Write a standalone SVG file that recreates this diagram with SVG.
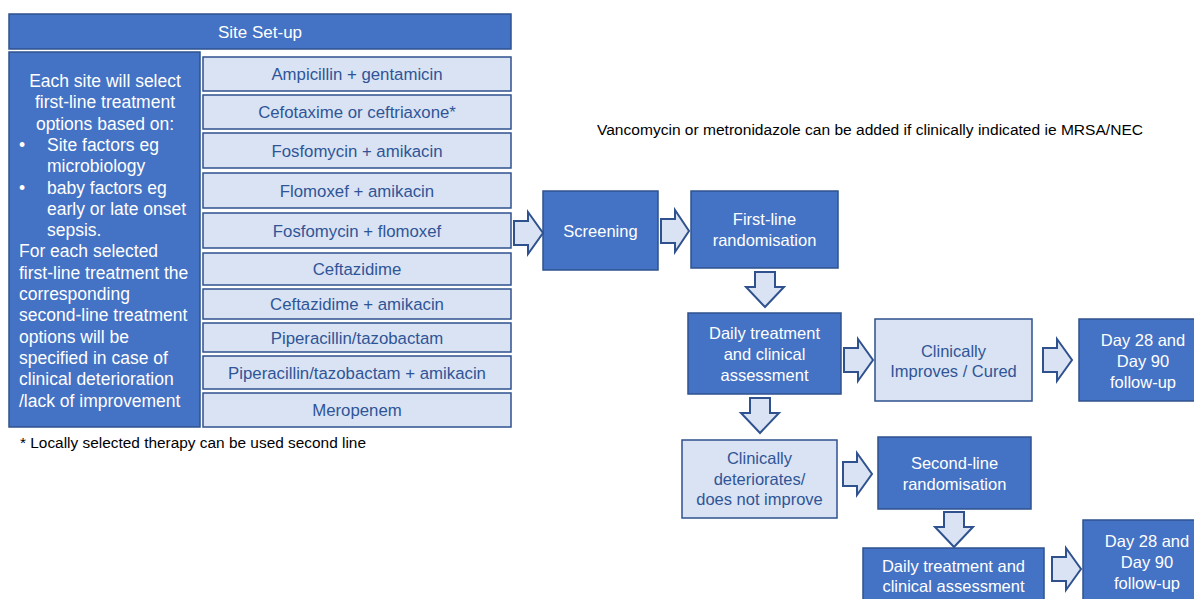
<svg xmlns="http://www.w3.org/2000/svg" width="1194" height="599" viewBox="0 0 1194 599">
<style>
.dk{fill:#4472C4;stroke:#2F528F;stroke-width:1.5}
.lt{fill:#DAE3F3;stroke:#2F528F;stroke-width:1.5}
.ar{fill:#DAE3F3;stroke:#2F528F;stroke-width:2;stroke-linejoin:miter}
text{font-family:"Liberation Sans",Arial,sans-serif}
.w{fill:#FFFFFF;font-size:16.5px;text-anchor:middle}
.b{fill:#2F5597;font-size:16.8px;text-anchor:middle}
.lw{fill:#FFFFFF;font-size:17.5px}
.note{fill:#000000;font-size:15.3px}
</style>
<rect width="1194" height="599" fill="#FFFFFF"/>

<g id="site-setup">
<rect class="dk" x="9" y="14" width="502" height="35"/>
<text class="w" x="260" y="38" style="font-size:17px">Site Set-up</text>
</g>

<g id="site-description">
<rect class="dk" x="9" y="52" width="191" height="375"/>
<text class="lw" text-anchor="middle" x="105" y="87">Each site will select</text>
<text class="lw" text-anchor="middle" x="105" y="108.3">first-line treatment</text>
<text class="lw" text-anchor="middle" x="105" y="129.6">options based on:</text>
<text class="lw" x="19" y="150.9">•</text>
<text class="lw" x="47" y="150.9">Site factors eg</text>
<text class="lw" x="47" y="172.2">microbiology</text>
<text class="lw" x="19" y="193.5">•</text>
<text class="lw" x="47" y="193.5">baby factors eg</text>
<text class="lw" x="47" y="214.8">early or late onset</text>
<text class="lw" x="47" y="236.1">sepsis.</text>
<text class="lw" x="19" y="257.4">For each selected</text>
<text class="lw" x="19" y="278.7">first-line treatment the</text>
<text class="lw" x="19" y="300">corresponding</text>
<text class="lw" x="19" y="321.3">second-line treatment</text>
<text class="lw" x="19" y="342.6">options will be</text>
<text class="lw" x="19" y="363.9">specified in case of</text>
<text class="lw" x="19" y="385.2">clinical deterioration</text>
<text class="lw" x="19" y="406.5">/lack of improvement</text>
</g>

<g id="opt1"><rect class="lt" x="203" y="57" width="308" height="34"/><text class="b" x="357" y="80">Ampicillin + gentamicin</text></g>
<g id="opt2"><rect class="lt" x="203" y="95" width="308" height="34"/><text class="b" x="357" y="118">Cefotaxime  or ceftriaxone*</text></g>
<g id="opt3"><rect class="lt" x="203" y="133" width="308" height="35"/><text class="b" x="357" y="156.5">Fosfomycin +  amikacin</text></g>
<g id="opt4"><rect class="lt" x="203" y="173" width="308" height="35"/><text class="b" x="357" y="196.5">Flomoxef + amikacin</text></g>
<g id="opt5"><rect class="lt" x="203" y="213" width="308" height="35"/><text class="b" x="357" y="236.5">Fosfomycin + flomoxef</text></g>
<g id="opt6"><rect class="lt" x="203" y="253" width="308" height="32"/><text class="b" x="357" y="275">Ceftazidime</text></g>
<g id="opt7"><rect class="lt" x="203" y="289" width="308" height="30"/><text class="b" x="357" y="310">Ceftazidime + amikacin</text></g>
<g id="opt8"><rect class="lt" x="203" y="323" width="308" height="29"/><text class="b" x="357" y="343.5">Piperacillin/tazobactam</text></g>
<g id="opt9"><rect class="lt" x="203" y="356" width="308" height="33"/><text class="b" x="357" y="378.5">Piperacillin/tazobactam +  amikacin</text></g>
<g id="opt10"><rect class="lt" x="203" y="393" width="308" height="34"/><text class="b" x="357" y="416">Meropenem</text></g>

<g id="footnote"><text class="note" x="20" y="448" textLength="346" lengthAdjust="spacingAndGlyphs">* Locally selected therapy can be used second line</text></g>
<g id="vanco-note"><text class="note" x="597" y="135" textLength="546" lengthAdjust="spacingAndGlyphs">Vancomycin or metronidazole can be added if clinically indicated ie MRSA/NEC</text></g>

<g id="screening"><rect class="dk" x="543" y="191" width="115" height="79"/><text class="w" x="600.5" y="236.5">Screening</text></g>
<g id="first-line"><rect class="dk" x="691" y="191" width="147" height="77"/><text class="w" x="764.5" y="225">First-line</text><text class="w" x="764.5" y="246">randomisation</text></g>
<g id="daily1"><rect class="dk" x="688" y="313" width="153" height="81"/><text class="w" x="764.5" y="339">Daily treatment</text><text class="w" x="764.5" y="360">and clinical</text><text class="w" x="764.5" y="381">assessment</text></g>
<g id="improves"><rect class="lt" x="875" y="319" width="157" height="82"/><text class="b" x="953.5" y="356.5" style="font-size:16.5px">Clinically</text><text class="b" x="953.5" y="377" style="font-size:16.5px">Improves / Cured</text></g>
<g id="day28a"><rect class="dk" x="1079" y="319" width="125" height="82"/><text class="w" x="1143" y="346">Day 28 and</text><text class="w" x="1143" y="367">Day 90</text><text class="w" x="1143" y="388">follow-up</text></g>
<g id="deteriorates"><rect class="lt" x="682" y="440" width="155" height="78"/><text class="b" x="759.5" y="464" style="font-size:16.5px">Clinically</text><text class="b" x="759.5" y="485" style="font-size:16.5px">deteriorates/</text><text class="b" x="759.5" y="505" style="font-size:16.5px">does not improve</text></g>
<g id="second-line"><rect class="dk" x="878" y="437" width="153" height="72"/><text class="w" x="954.5" y="469">Second-line</text><text class="w" x="954.5" y="490">randomisation</text></g>
<g id="daily2"><rect class="dk" x="863" y="548" width="181" height="60"/><text class="w" x="953.5" y="572">Daily treatment and</text><text class="w" x="953.5" y="592">clinical assessment</text></g>
<g id="day28b"><rect class="dk" x="1083" y="520" width="121" height="90"/><text class="w" x="1147" y="547">Day 28 and</text><text class="w" x="1147" y="568">Day 90</text><text class="w" x="1147" y="589">follow-up</text></g>

<g id="connectors">
<path class="ar" d="M514,221 H528 V212 L543,233 L528,254 V245 H514 Z"/>
<path class="ar" d="M661,219 H675 V210 L689,231 L675,252 V243 H661 Z"/>
<path class="ar" d="M755,272 H775 V287 H784 L765,307 L746,287 H755 Z"/>
<path class="ar" d="M844,348 H858 V339 L873,360 L858,381 V372 H844 Z"/>
<path class="ar" d="M1043,348 H1057 V339 L1072,360 L1057,381 V372 H1043 Z"/>
<path class="ar" d="M750,398 H770 V413 H779 L760,433 L741,413 H750 Z"/>
<path class="ar" d="M843,462 H857 V453 L872,474 L857,495 V486 H843 Z"/>
<path class="ar" d="M944,512 H964 V527 H973 L954,547 L935,527 H944 Z"/>
<path class="ar" d="M1052,557 H1066 V548 L1081,569 L1066,590 V581 H1052 Z"/>
</g>
</svg>
